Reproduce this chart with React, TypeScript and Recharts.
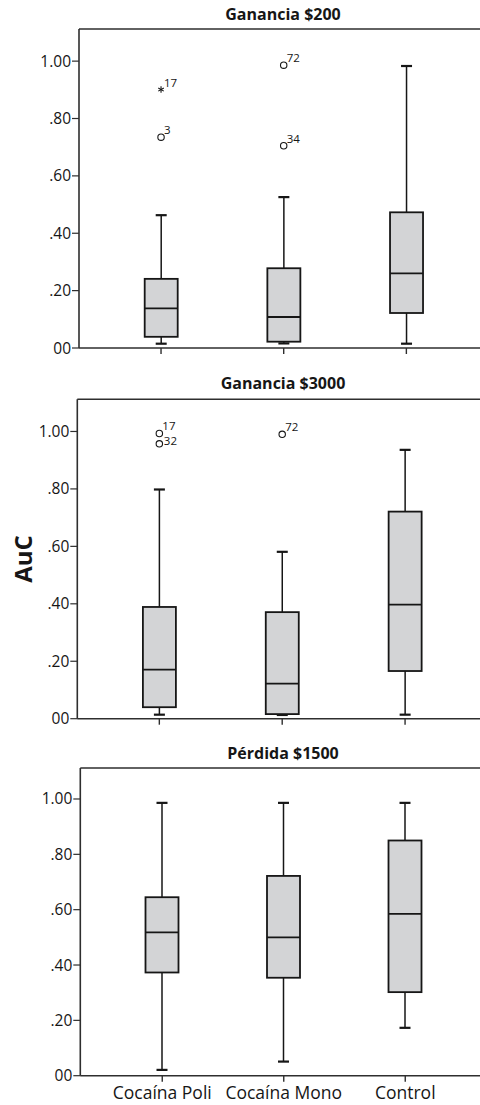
import React from "react";
import { ComposedChart, Bar, Scatter, XAxis, YAxis, ReferenceLine } from "recharts";

const groups = ["Cocaína Poli", "Cocaína Mono", "Control"];
const yTicks = [0, 0.2, 0.4, 0.6, 0.8, 1.0];
const yMax = 1.112;

// [min, Q1, mediana, Q3, max] por grupo
const ganancia200 = [
  [0.015, 0.039, 0.138, 0.241, 0.463],
  [0.016, 0.022, 0.108, 0.278, 0.526],
  [0.015, 0.122, 0.26, 0.473, 0.983],
];
const ganancia200Outliers = [
  { group: 0, value: 0.901, id: "17", extreme: true },
  { group: 0, value: 0.735, id: "3", extreme: false },
  { group: 1, value: 0.986, id: "72", extreme: false },
  { group: 1, value: 0.705, id: "34", extreme: false },
];

const ganancia3000 = [
  [0.014, 0.04, 0.171, 0.389, 0.798],
  [0.013, 0.016, 0.122, 0.371, 0.581],
  [0.014, 0.166, 0.397, 0.721, 0.936],
];
const ganancia3000Outliers = [
  { group: 0, value: 0.993, id: "17", extreme: false },
  { group: 0, value: 0.957, id: "32", extreme: false },
  { group: 1, value: 0.99, id: "72", extreme: false },
];

const perdida1500 = [
  [0.021, 0.373, 0.518, 0.645, 0.986],
  [0.051, 0.354, 0.5, 0.722, 0.986],
  [0.173, 0.302, 0.585, 0.85, 0.986],
];
const perdida1500Outliers: typeof ganancia3000Outliers = [];

const ink = "#161616";
const axisInk = "#2e2e2e";
const boxFill = "#d3d4d6";
const font = "'Open Sans', 'DejaVu Sans', sans-serif";
const sideLabels = ["32"];

function buildRows(stats: number[][], outliers: typeof ganancia200Outliers) {
  return groups.map((name, i) => {
    const [lo, q1, med, q3, hi] = stats[i];
    const outs = outliers.filter((o) => o.group === i);
    return {
      name,
      lo,
      q1,
      med,
      q3,
      hi,
      range: [lo, hi],
      outs,
      out0: outs[0] ? outs[0].value : undefined,
      out1: outs[1] ? outs[1].value : undefined,
    };
  });
}

function BoxShape(props: any) {
  const { x, y, width, height, payload } = props;
  if (!payload || !Number.isFinite(y) || !Number.isFinite(height)) return <g />;
  const top = Math.min(y, y + height);
  const bot = Math.max(y, y + height);
  const { lo, q1, med, q3, hi } = payload;
  const yOf = (v: number) => bot - ((v - lo) / (hi - lo)) * (bot - top);
  const cx = x + width / 2;
  const cap = 5.5;
  return (
    <g stroke={ink} fill="none">
      <line x1={cx} x2={cx} y1={yOf(hi)} y2={yOf(q3)} strokeWidth={1.5} />
      <line x1={cx} x2={cx} y1={yOf(q1)} y2={yOf(lo)} strokeWidth={1.5} />
      <line x1={cx - cap} x2={cx + cap} y1={yOf(hi)} y2={yOf(hi)} strokeWidth={2.2} />
      <line x1={cx - cap} x2={cx + cap} y1={yOf(lo)} y2={yOf(lo)} strokeWidth={2.2} />
      <rect
        x={x}
        y={yOf(q3)}
        width={width}
        height={yOf(q1) - yOf(q3)}
        fill={boxFill}
        strokeWidth={1.8}
      />
      <line x1={x} x2={x + width} y1={yOf(med)} y2={yOf(med)} strokeWidth={1.8} />
    </g>
  );
}

const outlierShape = (slot: number) => (props: any) => {
  const { cx, cy, payload } = props;
  const o = payload && payload.outs ? payload.outs[slot] : undefined;
  if (!o || !Number.isFinite(cx) || !Number.isFinite(cy)) return <g />;
  const side = sideLabels.includes(o.id);
  const r = 3.2;
  return (
    <g>
      {o.extreme ? (
        <g stroke={ink} strokeWidth={1.1}>
          <line x1={cx} x2={cx} y1={cy - r} y2={cy + r} />
          <line x1={cx - r * 0.87} x2={cx + r * 0.87} y1={cy - r / 2} y2={cy + r / 2} />
          <line x1={cx - r * 0.87} x2={cx + r * 0.87} y1={cy + r / 2} y2={cy - r / 2} />
        </g>
      ) : (
        <circle cx={cx} cy={cy} r={3.2} fill="#fff" stroke={ink} strokeWidth={1.1} />
      )}
      <text
        x={cx + (side ? 4.5 : 3)}
        y={cy + (side ? 1.5 : -3)}
        fontSize={11.5}
        fontFamily={font}
        fill={ink}
      >
        {o.id}
      </text>
    </g>
  );
};

const fmtY = (v: number) => {
  if (v === 0) return "00";
  if (v === 1) return "1.00";
  return "." + Math.round(v * 100).toString().padStart(2, "0");
};

interface PanelProps {
  title: string;
  stats: number[][];
  outliers: typeof ganancia200Outliers;
  top: number;
  height: number;
  plotTop: number;
  plotBottom: number;
  left: number;
  padL: number;
  padR: number;
  showLabels: boolean;
  titleY: number;
}

function Panel(p: PanelProps) {
  const rows = buildRows(p.stats, p.outliers);
  const xh = p.showLabels ? 27 : 14;
  const mb = p.height - p.plotBottom - xh;
  const xTick = (t: any) =>
    p.showLabels ? (
      <text
        x={t.x}
        y={t.y + 15.5}
        textAnchor="middle"
        fontFamily={font}
        fontSize={17.5}
        fill={ink}
      >
        {t.payload.value}
      </text>
    ) : (
      <g />
    );
  return (
    <div style={{ position: "absolute", left: 0, top: p.top, width: 480, height: p.height }}>
      <svg
        width={480}
        height={30}
        style={{ position: "absolute", left: 0, top: 0, overflow: "visible" }}
      >
        <text
          x={283}
          y={p.titleY}
          textAnchor="middle"
          fontFamily={font}
          fontWeight={700}
          fontSize={16}
          fill={ink}
        >
          {p.title}
        </text>
      </svg>
      <ComposedChart
        width={480}
        height={p.height}
        data={rows}
        margin={{ top: p.plotTop, right: 0, bottom: mb, left: 0 }}
        barSize={33}
        style={{ position: "absolute", left: 0, top: 0 }}
      >
        <XAxis
          dataKey="name"
          type="category"
          height={xh}
          padding={{ left: p.padL, right: p.padR }}
          axisLine={{ stroke: axisInk, strokeWidth: 1.6 }}
          tickLine={{ stroke: axisInk, strokeWidth: 1.4 }}
          tickSize={6}
          interval={0}
          tick={xTick}
        />
        <YAxis
          type="number"
          domain={[0, yMax]}
          ticks={yTicks}
          width={p.left}
          tickFormatter={fmtY}
          axisLine={{ stroke: axisInk, strokeWidth: 1.6 }}
          tickLine={{ stroke: axisInk, strokeWidth: 1.2 }}
          tickSize={7}
          tickMargin={1}
          tick={{ fill: ink, fontSize: 15.5, fontFamily: font }}
        />
        <ReferenceLine y={yMax} stroke={axisInk} strokeWidth={1.6} />
        <Bar dataKey="range" shape={BoxShape} isAnimationActive={false} />
        <Scatter dataKey="out0" shape={outlierShape(0)} isAnimationActive={false} />
        <Scatter dataKey="out1" shape={outlierShape(1)} isAnimationActive={false} />
      </ComposedChart>
    </div>
  );
}

export default function App() {
  return (
    <div
      style={{
        position: "absolute",
        left: 0,
        top: 0,
        width: 480,
        height: 1105,
        background: "#fff",
        overflow: "hidden",
      }}
    >
      <Panel
        title="Ganancia $200"
        stats={ganancia200}
        outliers={ganancia200Outliers}
        top={0}
        height={370}
        plotTop={29}
        plotBottom={348}
        left={79}
        padL={20.7}
        padR={12.3}
        showLabels={false}
        titleY={19.5}
      />
      <Panel
        title="Ganancia $3000"
        stats={ganancia3000}
        outliers={ganancia3000Outliers}
        top={370}
        height={370}
        plotTop={29.3}
        plotBottom={348.7}
        left={77.3}
        padL={20.6}
        padR={13.5}
        showLabels={false}
        titleY={18.5}
      />
      <Panel
        title="Pérdida $1500"
        stats={perdida1500}
        outliers={perdida1500Outliers}
        top={740}
        height={365}
        plotTop={28}
        plotBottom={335.7}
        left={80.3}
        padL={21.2}
        padR={14}
        showLabels={true}
        titleY={18.5}
      />
      <svg
        width={60}
        height={80}
        style={{ position: "absolute", left: 0, top: 520 }}
      >
        <text
          x={0}
          y={0}
          transform="translate(32 39) rotate(-90)"
          textAnchor="middle"
          fontFamily={font}
          fontWeight={700}
          fontSize={24}
          fill={ink}
        >
          AuC
        </text>
      </svg>
    </div>
  );
}
